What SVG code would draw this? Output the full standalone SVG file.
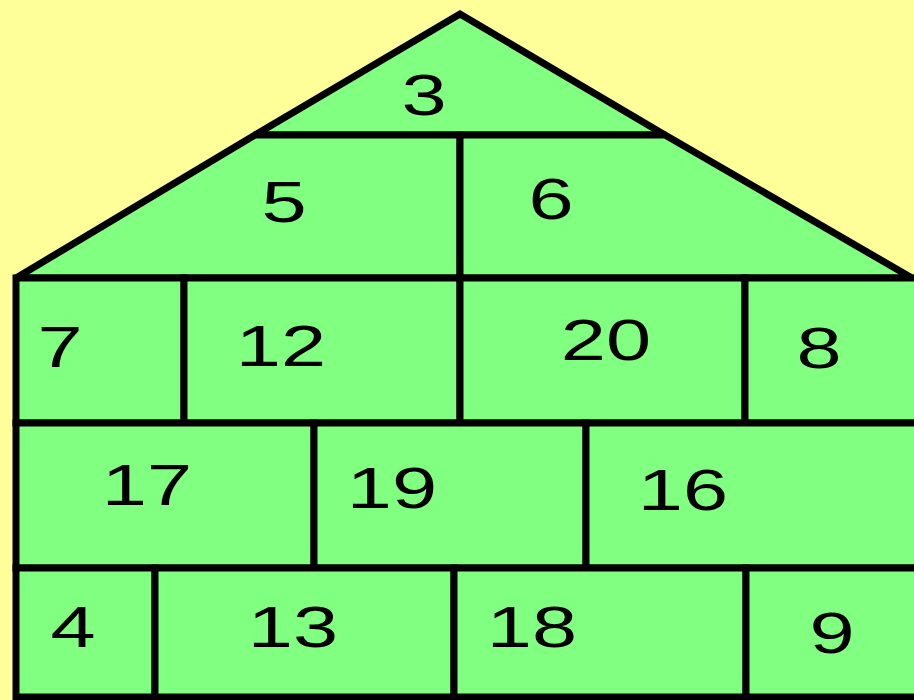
<svg xmlns="http://www.w3.org/2000/svg" width="914" height="700" viewBox="0 0 914 700">
<style>
.c{fill:#80FF80;stroke:#000;stroke-width:7;stroke-linejoin:miter;stroke-miterlimit:2}
.t{font-family:"Liberation Sans",Arial,sans-serif;font-size:58px;fill:#000;text-anchor:middle}
</style>
<rect width="914" height="700" fill="#FFFF99"/>
<g id="cell-3"><polygon class="c" points="460,14 255,135 665,135"/><text class="t" transform="translate(424,115) scale(1.4,1)">3</text></g>
<g id="cell-5"><polygon class="c" points="255,135 460,135 460,278 16,278"/><text class="t" transform="translate(284,222) scale(1.4,1)">5</text></g>
<g id="cell-6"><polygon class="c" points="460,135 665,135 912,278 460,278"/><text class="t" transform="translate(551,219) scale(1.4,1)">6</text></g>
<g id="cell-7"><rect class="c" x="16" y="278" width="168" height="145"/><text class="t" transform="translate(60,367) scale(1.4,1)">7</text></g>
<g id="cell-12"><rect class="c" x="184" y="278" width="276" height="145"/><text class="t" transform="translate(281,366) scale(1.4,1)">12</text></g>
<g id="cell-20"><rect class="c" x="460" y="278" width="285" height="145"/><text class="t" transform="translate(606,360) scale(1.4,1)">20</text></g>
<g id="cell-8"><rect class="c" x="745" y="278" width="175" height="145"/><text class="t" transform="translate(819,368) scale(1.4,1)">8</text></g>
<g id="cell-17"><rect class="c" x="16" y="423" width="298" height="145"/><text class="t" transform="translate(147,505) scale(1.4,1)">17</text></g>
<g id="cell-19"><rect class="c" x="314" y="423" width="272" height="145"/><text class="t" transform="translate(392,508) scale(1.4,1)">19</text></g>
<g id="cell-16"><rect class="c" x="586" y="423" width="334" height="145"/><text class="t" transform="translate(683,510) scale(1.4,1)">16</text></g>
<g id="cell-4"><rect class="c" x="16" y="568" width="139" height="129"/><text class="t" transform="translate(73,647) scale(1.4,1)">4</text></g>
<g id="cell-13"><rect class="c" x="155" y="568" width="299" height="129"/><text class="t" transform="translate(293,647) scale(1.4,1)">13</text></g>
<g id="cell-18"><rect class="c" x="454" y="568" width="292" height="129"/><text class="t" transform="translate(532,647) scale(1.4,1)">18</text></g>
<g id="cell-9"><rect class="c" x="746" y="568" width="174" height="129"/><text class="t" transform="translate(832,653) scale(1.4,1)">9</text></g>
<g id="connectors"></g>
</svg>
